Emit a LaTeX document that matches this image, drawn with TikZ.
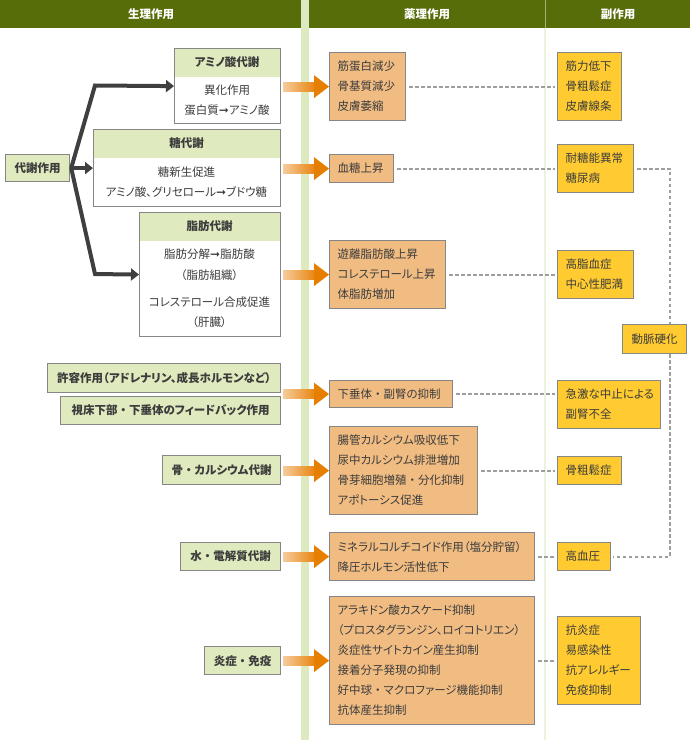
\documentclass[tikz,border=0pt]{standalone}
\usepackage{fontspec}
\setmainfont{Noto Sans CJK JP}[RawFeature={+palt}]
\newfontfamily\nfont{Noto Sans CJK JP}
\newfontfamily\symf{DejaVu Sans}
\usetikzlibrary{arrows.meta,calc}
\definecolor{hdr}{HTML}{566D09}
\definecolor{hdrline}{HTML}{A3AF73}
\definecolor{band}{HTML}{DDE9BF}
\definecolor{thinc}{HTML}{EDF2DD}
\definecolor{gfill}{HTML}{DFEABE}
\definecolor{mfill}{HTML}{F0BC82}
\definecolor{yfill}{HTML}{FFCB30}
\definecolor{bcol}{HTML}{868686}
\definecolor{txt}{HTML}{3C3C3C}
\definecolor{dk}{HTML}{3F3F3F}
\definecolor{oL}{HTML}{F6CC9C}
\definecolor{oR}{HTML}{E8850F}
\definecolor{oH}{HTML}{E67E00}
\definecolor{dshc}{HTML}{9E9E9E}
\newcommand\fs{\fontsize{11.5}{20}\selectfont}
\newcommand\arr{{\symf\fontsize{12}{12}\selectfont ➞}}
\newcommand\nk{{\nfont ・}}
\newcommand\oarr[1]{%
  \shade[left color=oL,right color=oR] ($(#1.west)+(-46,-4.5)$) rectangle ($(#1.west)+(-14,4.5)$);
  \fill[oH] ($(#1.west)+(-15,-11.5)$) -- (#1.west) -- ($(#1.west)+(-15,11.5)$) -- cycle;}
\begin{document}
\begin{tikzpicture}[x=1pt,y=-1pt,
  every node/.style={text=txt,font=\fs},
  gl/.style={draw=bcol,fill=gfill,line width=1.2pt,anchor=north west,align=center,inner sep=0pt,font=\fs\bfseries},
  gb/.style={draw=bcol,fill=white,line width=1.2pt,anchor=north west,inner sep=0pt,
    path picture={\fill[gfill] (path picture bounding box.north west) rectangle ([yshift=-28pt]path picture bounding box.north east);}},
  ttl/.style={font=\fs\bfseries,inner sep=0pt},
  bdy/.style={align=center,inner sep=0pt},
  mid/.style={draw=bcol,fill=mfill,line width=1.2pt,anchor=north west,align=left,inner xsep=8pt,inner ysep=0pt},
  yl/.style={draw=bcol,fill=yfill,line width=1.2pt,anchor=north west,align=left,inner xsep=8pt,inner ysep=0pt},
  dline/.style={draw=dshc,line width=1.8pt,dash pattern=on 3.5pt off 2.5pt,shorten <=3pt,shorten >=2pt},
  dline2/.style={draw=dshc,line width=1.8pt,dash pattern=on 3.5pt off 2.5pt},
  dark/.style={draw=dk,line width=4pt,-{Triangle[length=8pt,width=12pt]}},
  htxt/.style={font=\fs\bfseries,text=white,inner sep=0pt}
]
\useasboundingbox (0,0) rectangle (690,740);
% header and separators
\fill[hdr] (0,0) rectangle (690,28);
\fill[band] (301,0) rectangle (309,740);
\fill[thinc] (544,28) rectangle (546,740);
\fill[hdrline] (544.5,0) rectangle (545.5,28);
\node[htxt] (h1) at (151,14) {生理作用};
\node[htxt] (h2) at (427,14) {薬理作用};
\node[htxt] (h3) at (618,14) {副作用};

% left column
\node[gl,minimum width=64pt,minimum height=27pt] (taisha) at (5,154) {代謝作用};

\node[gb,minimum width=106pt,minimum height=75pt] (amino) at (174,48) {};
\node[ttl] (aminoT) at (227,62) {アミノ酸代謝};
\node[bdy] (aminoB) at (227,100) {異化作用\\蛋白質\arr アミノ酸};

\node[gb,minimum width=187pt,minimum height=77pt] (sugar) at (93,129) {};
\node[ttl] (sugarT) at (186.5,143) {糖代謝};
\node[bdy] (sugarB) at (186.5,182) {糖新生促進\\アミノ酸、グリセロール\arr ブドウ糖};

\node[gb,minimum width=141pt,minimum height=124pt] (fat) at (139,212) {};
\node[ttl] (fatT) at (209.5,226) {脂肪代謝};
\node[bdy,font=\fontsize{11.5}{21}\selectfont] (fatB1) at (209.5,264.5) {脂肪分解\arr 脂肪酸\\（脂肪組織）};
\node[bdy] (fatB2) at (209.5,312) {コレステロール合成促進\\（肝臓）};

\coordinate (bu) at (95,85.5);
\coordinate (bd) at (95,274);
\draw[dark] (taisha.east) -- (sugar.west);
\draw[dark] ([xshift=1pt]taisha.east) -- (bu) -- (amino.west);
\draw[dark] ([xshift=1pt]taisha.east) -- (bd) -- (fat.west);

\node[gl,minimum width=233pt,minimum height=29pt] (kyoyo) at (47,363) {許容作用（アドレナリン、成長ホルモンなど）};
\node[gl,minimum width=220pt,minimum height=28pt] (shosho) at (60,396) {視床下部\nk 下垂体のフィードバック作用};
\node[gl,minimum width=118pt,minimum height=29pt] (hone) at (162,455) {骨\nk カルシウム代謝};
\node[gl,minimum width=100pt,minimum height=28pt] (mizu) at (180,542) {水\nk 電解質代謝};
\node[gl,minimum width=76pt,minimum height=28pt] (ensho) at (204,646) {炎症\nk 免疫};

% middle column
\node[mid,text width=60pt,minimum height=68pt] (m1) at (329,52) {筋蛋白減少\\骨基質減少\\皮膚萎縮};
\node[mid,text width=48pt,minimum height=28pt] (m2) at (329,154) {血糖上昇};
\node[mid,text width=100pt,minimum height=68pt] (m3) at (329,240) {遊離脂肪酸上昇\\コレステロール上昇\\体脂肪増加};
\node[mid,text width=107pt,minimum height=27pt] (m4) at (329,380) {下垂体\nk 副腎の抑制};
\node[mid,text width=132pt,minimum height=88pt] (m5) at (329,426) {腸管カルシウム吸収低下\\尿中カルシウム排泄増加\\骨芽細胞増殖\nk 分化抑制\\アポトーシス促進};
\node[mid,text width=189pt,minimum height=48pt] (m6) at (329,532) {ミネラルコルチコイド作用（塩分貯留）\\降圧ホルモン活性低下};
\node[mid,text width=189pt,minimum height=128pt] (m7) at (329,596) {アラキドン酸カスケード抑制\\（プロスタグランジン、ロイコトリエン）\\炎症性サイトカイン産生抑制\\接着分子発現の抑制\\好中球\nk マクロファージ機能抑制\\抗体産生抑制};

% orange arrows
\oarr{m1}
\oarr{m2}
\oarr{m3}
\oarr{m4}
\oarr{m5}
\oarr{m6}
\oarr{m7}

% right column
\node[yl,text width=48pt,minimum height=68pt] (r1) at (557,52) {筋力低下\\骨粗鬆症\\皮膚線条};
\node[yl,text width=60pt,minimum height=48pt] (r2) at (557,144) {耐糖能異常\\糖尿病};
\node[yl,text width=60pt,minimum height=48pt] (r3) at (557,250) {高脂血症\\中心性肥満};
\node[yl,align=center,inner sep=0pt,minimum width=64pt,minimum height=29pt] (r4) at (622,324) {動脈硬化};
\node[yl,text width=87pt,minimum height=48pt] (r5) at (557,380) {急激な中止による\\副腎不全};
\node[yl,text width=48pt,minimum height=28pt] (r6) at (557,456) {骨粗鬆症};
\node[yl,text width=37pt,minimum height=28pt] (r7) at (557,542) {高血圧};
\node[yl,text width=67pt,minimum height=88pt] (r8) at (557,616) {抗炎症\\易感染性\\抗アレルギー\\免疫抑制};

% dashed connectors
\draw[dline] (m1.east) -- (r1.west);
\draw[dline] (m2.east) -- (r2.west);
\draw[dline] (m3.east) -- (r3.west);
\draw[dline] (m4.east) -- (m4.east -| r5.west);
\draw[dline] (m5.east) -- (r6.west);
\draw[dline] (m6.east) -- (r7.west);
\draw[dline] (m7.east) -- (r8.west);
\coordinate (vx) at (670,0);
\draw[dline2,shorten <=3pt] (r2.east) -- (r2.east -| vx) -- (r4.north -| vx);
\draw[dline2,shorten >=2pt] (r4.south -| vx) -- (r7.east -| vx) -- (r7.east);
\end{tikzpicture}
\end{document}
